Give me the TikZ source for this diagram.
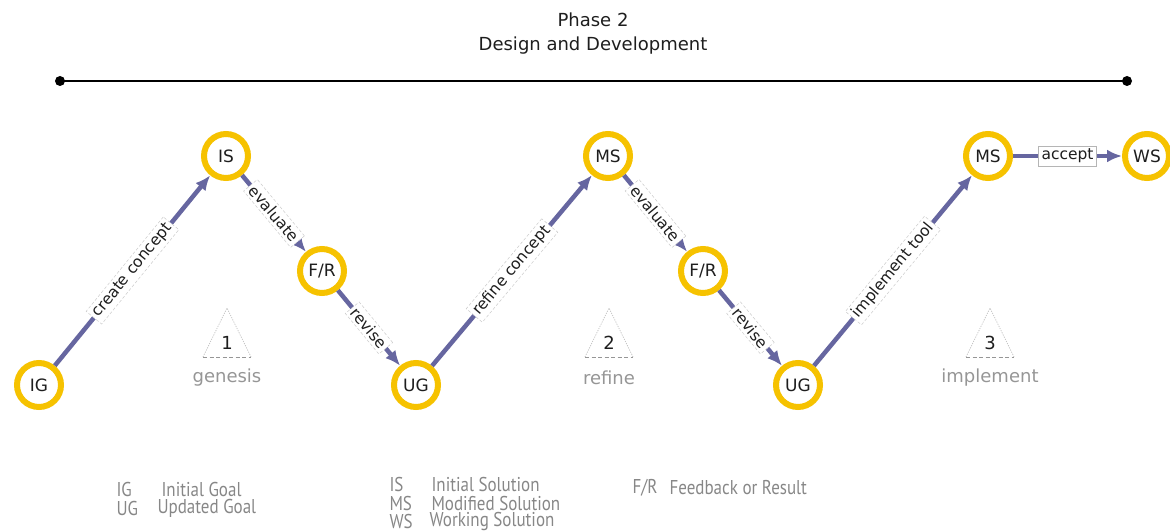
\documentclass[tikz,border=0pt]{standalone}
\usepackage{fontspec}
\setmainfont{DejaVu Sans}
\newfontfamily\legfont[FakeStretch=0.85]{PT Sans}
\usetikzlibrary{arrows.meta}
\definecolor{ring}{RGB}{246,194,0}
\definecolor{edgec}{RGB}{102,102,160}
\definecolor{lgrey}{RGB}{150,150,150}
\definecolor{txtc}{RGB}{30,30,30}
\tikzset{
  stage/.style={circle, draw=ring, line width=6pt, fill=white, minimum size=44pt,
    inner sep=0pt, text=txtc, font=\fontsize{17}{19}\selectfont},
  flow/.style={draw=edgec, line width=4.5pt, -{Latex[length=15pt,width=13pt]}},
  elabel/.style={sloped, fill=white, draw=lgrey!50, densely dashed, line width=0.5pt,
    font=\fontsize{15.5}{17}\selectfont, inner sep=3pt, text=txtc},
  alabel/.style={fill=white, draw=lgrey!70, solid, line width=0.6pt,
    font=\fontsize{15.5}{17}\selectfont, inner sep=3pt, text=txtc},
  phase/.style={text=lgrey, font=\fontsize{18}{20}\selectfont},
  num/.style={text=txtc, font=\fontsize{18}{20}\selectfont},
  legk/.style={anchor=west, text=lgrey!90!black, font=\legfont\fontsize{20}{22}\selectfont},
  title/.style={text=txtc, font=\fontsize{18}{20}\selectfont},
  tside/.style={draw=lgrey!60, dash pattern=on 1.2pt off 1.2pt, line width=0.7pt},
  tbase/.style={draw=lgrey, dash pattern=on 4pt off 2.5pt, line width=0.8pt},
}
\begin{document}
\begin{tikzpicture}[x=1pt,y=-1pt]
\useasboundingbox (0,0) rectangle (1170,532);
% title
\node[title] (t1) at (593,20) {Phase 2};
\node[title] (t2) at (593,46) {Design and Development};
% timeline
\coordinate (la) at (60,81);
\coordinate (lb) at (1127,81);
\draw[line width=1.6pt] (la) -- (lb);
\fill (la) circle (5);
\fill (lb) circle (5);
% nodes
\node[stage] (IG)  at (39,385)   {IG};
\node[stage] (IS)  at (226,156)  {IS};
\node[stage] (FR1) at (322,271)  {F/R};
\node[stage] (UG1) at (416,385)  {UG};
\node[stage] (MS1) at (608,156)  {MS};
\node[stage] (FR2) at (703,271)  {F/R};
\node[stage] (UG2) at (798,385)  {UG};
\node[stage] (MS2) at (988,156)  {MS};
\node[stage] (WS)  at (1147,156) {WS};
% connectors
\draw[flow] (IG)  -- node[elabel] (e1) {create concept} (IS);
\draw[flow] (IS)  -- node[elabel] (e2) {evaluate} (FR1);
\draw[flow] (FR1) -- node[elabel] (e3) {revise} (UG1);
\draw[flow] (UG1) -- node[elabel] (e4) {refine concept} (MS1);
\draw[flow] (MS1) -- node[elabel] (e5) {evaluate} (FR2);
\draw[flow] (FR2) -- node[elabel] (e6) {revise} (UG2);
\draw[flow] (UG2) -- node[elabel] (e7) {implement tool} (MS2);
\draw[flow] (MS2) -- node[alabel] (e8) {accept} (WS);
% phase triangles
\foreach \cx/\n/\lab/\nm in {227/1/genesis/a, 609/2/refine/b, 990/3/implement/c}{
  \draw[tside] (\cx-24,357) -- (\cx,308) -- (\cx+24,357);
  \draw[tbase] (\cx-24,357) -- (\cx+24,357);
  \node[num] (n\nm) at (\cx,343) {\n};
  \node[phase] (p\nm) at (\cx,378) {\lab};
}
% legend
\node[legk] (k1) at (113,489) {IG};
\node[legk] (k1b) at (158,489) {Initial Goal};
\node[legk] (k2) at (113,508) {UG};
\node[legk] (k2b) at (154,508) {Updated Goal};
\node[legk] (k3) at (386,484) {IS};
\node[legk] (k3b) at (428,484) {Initial Solution};
\node[legk] (k4) at (386,503) {MS};
\node[legk] (k4b) at (428,503) {Modified Solution};
\node[legk] (k5) at (386,521) {WS};
\node[legk] (k5b) at (426,521) {Working Solution};
\node[legk] (k6) at (629,488) {F/R};
\node[legk] (k6b) at (666,488) {Feedback or Result};
\end{tikzpicture}
\end{document}
